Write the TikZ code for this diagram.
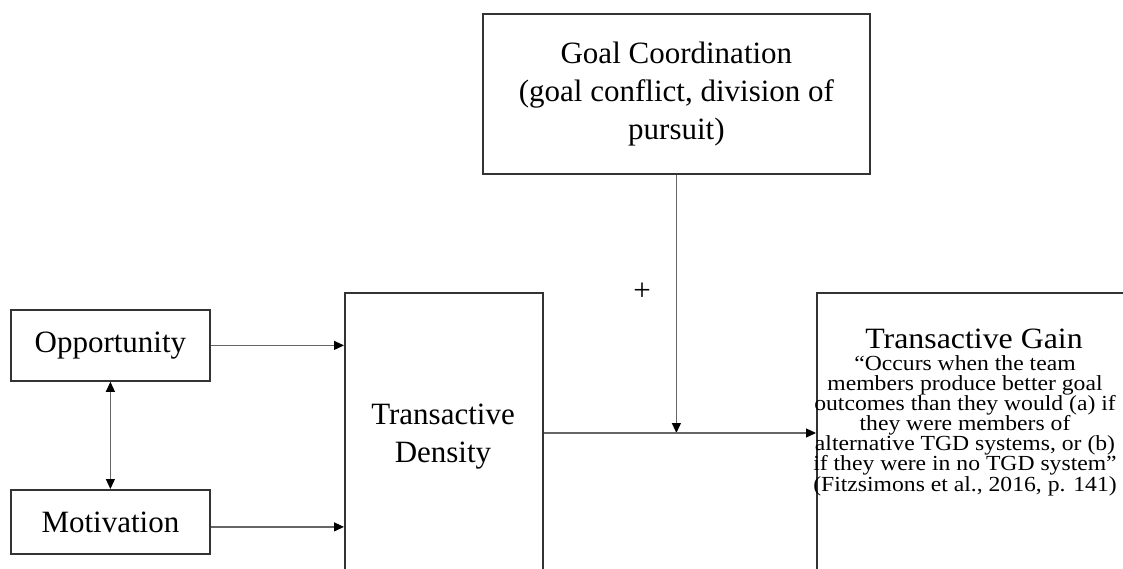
\documentclass[tikz,border=0pt]{standalone}
\usepackage{fontspec}
\setmainfont{Liberation Serif}
\newfontfamily\widebody[FakeStretch=1.1]{Liberation Serif}
\newfontfamily\widehead[FakeStretch=1.08]{Liberation Serif}
\usetikzlibrary{arrows.meta}
\lineskiplimit=-50pt
\begin{document}
\begin{tikzpicture}[x=1pt,y=-1pt,
  box/.style={draw=black!80, line width=1.8pt, inner sep=0pt, anchor=north west, align=center, font=\fontsize{31}{38}\selectfont},
  lbl/.style={inner sep=0pt, align=center, font=\fontsize{31}{38}\selectfont},
  link/.style={draw=black!60, line width=1.2pt, -{Triangle[length=10pt,width=9pt,fill=black,color=black]}},
  both/.style={draw=black!60, line width=1.2pt, {Triangle[length=10pt,width=9pt,fill=black,color=black]}-{Triangle[length=10pt,width=9pt,fill=black,color=black]}},
]
\useasboundingbox (0,0) rectangle (1123,569);
\fill[white] (0,0) rectangle (1123,569);

\node[box, minimum width=199pt, minimum height=71pt] (opp) at (10,309) {Opportunity};
\node[box, minimum width=199pt, minimum height=64pt] (mot) at (10,489) {Motivation};
\node[box, minimum width=387pt, minimum height=160pt] (goal) at (482,13) {Goal Coordination\\(goal conflict, division of\\pursuit)};
\node[box, minimum width=198pt, minimum height=330pt] (td) at (344,292) {};
\node[lbl] (tdtext) at (443,437) {Transactive\\Density};
\node[box, minimum width=400pt, minimum height=330pt] (tg) at (816,292) {};
\node[inner sep=0pt, anchor=base, font=\widehead\fontsize{29.5}{36}\selectfont] (tghead) at (974,348) {Transactive Gain};
\node[inner sep=0pt, anchor=base, align=center, font=\widebody\fontsize{21.5}{20.1}\selectfont] (tgbody) at (965,491) {“Occurs when the team\\members produce better goal\\outcomes than they would (a) if\\they were members of\\alternative TGD systems, or (b)\\if they were in no TGD system”\\(Fitzsimons et al., 2016, p. 141)};
\node[inner sep=0pt, font=\fontsize{31}{31}\selectfont] (plus) at (642,292) {+};

\coordinate (j) at (goal.south |- 0,433);
\draw[link] (opp.east) -- (opp.east -| td.west);
\draw[link] ([yshift=-5pt]mot.east) -- ([yshift=-5pt]mot.east -| td.west);
\draw[both] (opp.south) -- (mot.north);
\draw[link] (goal.south) -- (j);
\draw[link] (j -| td.east) -- (j -| tg.west);
\end{tikzpicture}
\end{document}
